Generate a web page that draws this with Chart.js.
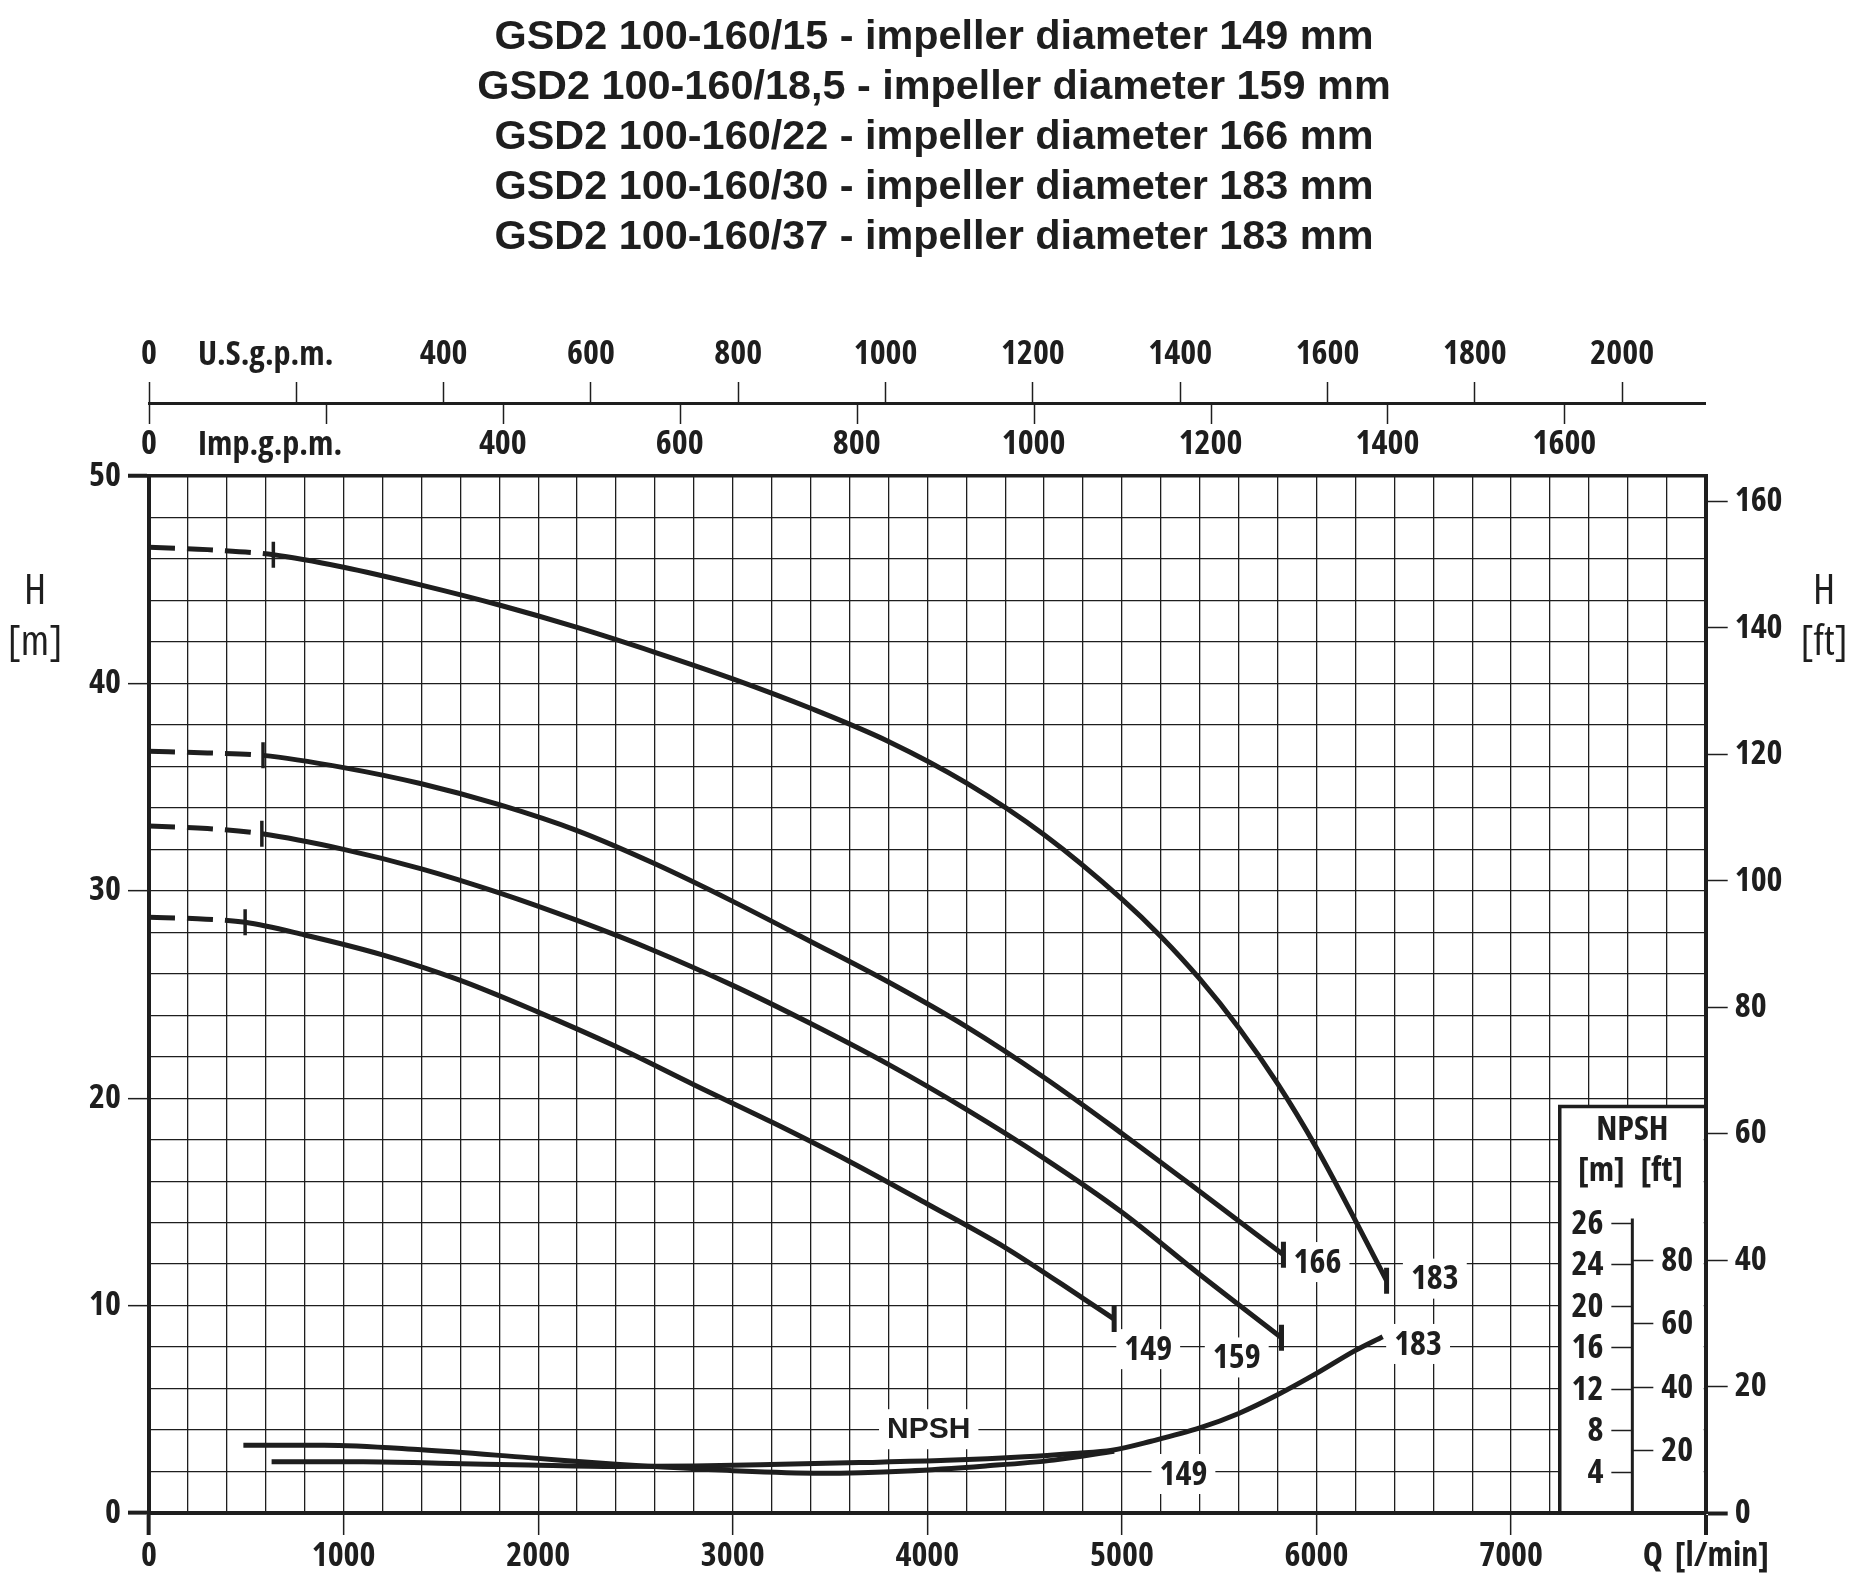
<!DOCTYPE html>
<html>
<head>
<meta charset="utf-8">
<title>GSD2 100-160 - pump curves</title>
<script src="https://cdn.jsdelivr.net/npm/chart.js@4.4.1/dist/chart.umd.min.js"></script>
<style>
    html, body { margin: 0; padding: 0; background: #fff; }
    #wrap { width: 1859px; height: 1591px; }
</style>
</head>
<body>
<div id="wrap"><canvas id="chart"></canvas></div>
<script>
/* ================= DATA ================= */
const titleLines = [
    "GSD2 100-160/15 - impeller diameter 149 mm",
    "GSD2 100-160/18,5 - impeller diameter 159 mm",
    "GSD2 100-160/22 - impeller diameter 166 mm",
    "GSD2 100-160/30 - impeller diameter 183 mm",
    "GSD2 100-160/37 - impeller diameter 183 mm"
];

// Q [l/min] / H [m]
const flow149 = [0, 250, 494, 800, 1200, 1600, 2000, 2400, 2800, 3200, 3600, 4000, 4400, 4800, 4960];
const head149 = [28.72, 28.65, 28.48, 27.87, 26.91, 25.68, 24.15, 22.49, 20.65, 18.85, 16.95, 14.9, 12.8, 10.35, 9.35];

const flow159 = [0, 300, 580, 1000, 1400, 1800, 2200, 2600, 3000, 3400, 3800, 4200, 4600, 5000, 5400, 5820];
const head159 = [33.12, 33.0, 32.75, 32.0, 31.06, 29.9, 28.57, 27.1, 25.44, 23.6, 21.63, 19.46, 17.1, 14.5, 11.5, 8.45];

const flow166 = [0, 300, 586, 1000, 1400, 1800, 2200, 2600, 3000, 3400, 3800, 4200, 4600, 5000, 5400, 5830];
const head166 = [36.73, 36.65, 36.53, 35.94, 35.16, 34.15, 32.9, 31.3, 29.49, 27.56, 25.6, 23.45, 21.0, 18.3, 15.5, 12.45];

const flow183 = [0, 300, 639, 1000, 1400, 1800, 2200, 2600, 3000, 3400, 3800, 4200, 4600, 5000, 5200, 5400, 5600, 5800, 6000, 6200, 6360];
const head183 = [46.56, 46.45, 46.2, 45.6, 44.74, 43.78, 42.7, 41.5, 40.22, 38.8, 37.2, 35.2, 32.7, 29.6, 27.8, 25.75, 23.4, 20.7, 17.6, 14.1, 11.2];

// minimum flow (end of dashed part)
const curveNames   = ["149", "159", "166", "183"];
const curveMinFlow = [494, 580, 586, 639];

// NPSH [m]
const npshFlow149 = [485, 900, 1400, 1950, 2400, 2600, 3000, 3450, 3900, 4300, 4650, 4960];
const npshHead149 = [6.54, 6.54, 6.1, 5.34, 4.7, 4.48, 4.08, 3.84, 4.06, 4.54, 5.1, 5.96];

const npshFlow183 = [630, 1100, 1550, 1950, 2400, 2800, 3250, 3650, 4100, 4500, 4750, 4950, 5150, 5400, 5600, 5800, 6000, 6200, 6340];
const npshHead183 = [4.94, 4.94, 4.78, 4.62, 4.48, 4.54, 4.7, 4.86, 5.08, 5.42, 5.74, 6.06, 6.92, 8.2, 9.6, 11.4, 13.46, 15.68, 17.0];

// curve labels (anchor in Q / H)
const labelText = ["149", "159", "166", "183", "183", "NPSH", "149"];
const labelFlow = [5135, 5590, 6005, 6608, 6522, 4007, 5316];
const labelHead = [7.9, 7.5, 12.1, 11.3, 8.15, 4.04, 1.88];

// NPSH inset scale
const npshMeterTicks  = [4, 8, 12, 16, 20, 24, 28];
const npshMeterLabels = ["4", "8", "12", "16", "20", "24", "26"];
const npshFeetTicks   = [20, 40, 60, 80];

/* ================= UNITS ================= */
const LPM_PER_USGPM  = 3.78541;
const LPM_PER_IMPGPM = 4.54609;
const M_PER_FT       = 0.3048;

/* ================= STYLE ================= */
const ink      = "#1e1e1e";
const narrow   = "'Open Sans', 'DejaVu Sans Condensed', sans-serif";
const wide     = "'Liberation Sans', Arial, sans-serif";
const boldNarrow = `bold condensed 34px ${narrow}`;
const tickFont = { family: narrow, size: 34, weight: "bold condensed", lineHeight: 1 };

/* ================= HELPERS ================= */
function points(xs, ys) {
    return xs.map((x, i) => ({ x: x, y: ys[i] }));
}

function headCurve(name, xs, ys) {
    const minQ = curveMinFlow[curveNames.indexOf(name)];
    const minIdx = xs.indexOf(minQ);
    const last = xs.length - 1;
    return {
        label: "H " + name,
        data: points(xs, ys),
        xAxisID: "x",
        yAxisID: "y",
        borderColor: ink,
        borderWidth: 5,
        cubicInterpolationMode: "monotone",
        pointStyle: "line",
        pointRotation: 90,
        pointRadius: c => (c.dataIndex === minIdx || c.dataIndex === last) ? 13 : 0,
        pointBorderWidth: c => c.dataIndex === last ? 5 : 3.5,
        pointBorderColor: ink,
        segment: {
            borderDash: c => c.p1.parsed.x <= minQ ? [26, 12] : undefined
        }
    };
}

function npshCurve(name, xs, ys) {
    return {
        label: "NPSH " + name,
        data: points(xs, ys),
        xAxisID: "x",
        yAxisID: "ynpsh",
        borderColor: ink,
        borderWidth: 5,
        cubicInterpolationMode: "monotone",
        pointRadius: 0
    };
}

function strokeLine(ctx, x1, y1, x2, y2) {
    ctx.beginPath();
    ctx.moveTo(x1, y1);
    ctx.lineTo(x2, y2);
    ctx.stroke();
}

/* ================= PLUGINS ================= */
const npshInset = {
    id: "npshInset",
    beforeDatasetsDraw(chart) {
        const { ctx, scales: { x, y, ynpsh } } = chart;
        const left = x.getPixelForValue(7250);
        const right = x.getPixelForValue(8000);
        const top = y.getPixelForValue(19.6);
        const bottom = y.getPixelForValue(0);
        const axisX = x.getPixelForValue(7623);

        ctx.save();
        ctx.fillStyle = "#fff";
        ctx.fillRect(left, top, right - 2 - left, bottom - 2 - top);

        ctx.strokeStyle = ink;
        ctx.lineWidth = 3.5;
        ctx.beginPath();
        ctx.moveTo(left, bottom);
        ctx.lineTo(left, top);
        ctx.lineTo(right, top);
        ctx.stroke();

        ctx.lineWidth = 3;
        strokeLine(ctx, axisX, bottom, axisX, ynpsh.getPixelForValue(28.4));

        ctx.lineWidth = 1.5;
        ctx.fillStyle = ink;
        ctx.font = boldNarrow;
        ctx.textBaseline = "middle";

        ctx.textAlign = "right";
        npshMeterTicks.forEach((v, i) => {
            const py = Math.round(ynpsh.getPixelForValue(v)) + 0.5;
            strokeLine(ctx, axisX - 21, py, axisX, py);
            ctx.fillText(npshMeterLabels[i], axisX - 29, py + 1);
        });

        ctx.textAlign = "left";
        npshFeetTicks.forEach(v => {
            const py = Math.round(ynpsh.getPixelForValue(v * M_PER_FT)) + 0.5;
            strokeLine(ctx, axisX, py, axisX + 21, py);
            ctx.fillText(String(v), axisX + 29, py + 1);
        });

        ctx.textAlign = "center";
        ctx.fillText("NPSH", axisX, y.getPixelForValue(18.47));
        ctx.fillText("[m]", x.getPixelForValue(7464), y.getPixelForValue(16.47));
        ctx.fillText("[ft]", x.getPixelForValue(7774), y.getPixelForValue(16.47));
        ctx.restore();
    }
};

const curveLabels = {
    id: "curveLabels",
    beforeDatasetsDraw(chart) {
        const { ctx, scales: { x, y } } = chart;
        ctx.save();
        ctx.textAlign = "center";
        ctx.textBaseline = "middle";
        labelText.forEach((t, i) => {
            ctx.font = t === "NPSH" ? `bold 30px ${wide}` : boldNarrow;
            const px = x.getPixelForValue(labelFlow[i]);
            const py = y.getPixelForValue(labelHead[i]);
            const w = ctx.measureText(t).width + 16;
            ctx.fillStyle = "#fff";
            ctx.fillRect(px - w / 2, py - 20, w, 40);
            ctx.fillStyle = ink;
            ctx.fillText(t, px, py + 1);
        });
        ctx.restore();
    }
};

const gpmTicksDown = {
    id: "gpmTicksDown",
    afterDraw(chart) {
        const s = chart.scales.ximp;
        const ctx = chart.ctx;
        ctx.save();
        ctx.strokeStyle = ink;
        ctx.lineWidth = 1.5;
        s.ticks.forEach(t => {
            const px = Math.round(s.getPixelForValue(t.value)) + 0.5;
            strokeLine(ctx, px, s.top, px, s.top + 21);
        });
        ctx.restore();
    }
};

const axisTitles = {
    id: "axisTitles",
    afterDraw(chart) {
        const { ctx, scales: { y, xus, ximp } } = chart;
        ctx.save();
        ctx.fillStyle = ink;
        ctx.textAlign = "center";
        ctx.textBaseline = "middle";
        ctx.font = `500 condensed 42px ${narrow}`;
        const y1 = y.getPixelForValue(44.4);
        const y2 = y.getPixelForValue(41.97);
        ctx.fillText("H", 35, y1);
        ctx.fillText("[m]", 35, y2);
        ctx.fillText("H", 1824, y1);
        ctx.fillText("[ft]", 1824, y2);

        ctx.font = boldNarrow;
        ctx.textAlign = "left";
        ctx.fillText("U.S.g.p.m.", xus.getPixelForValue(0) + 49, xus.bottom - 48);
        ctx.fillText("Imp.g.p.m.", ximp.getPixelForValue(0) + 49, ximp.bottom - 31);
        ctx.restore();
    }
};

/* ================= CHART ================= */
const onTick = (c, fn, fallback) => (c.tick ? fn(c.tick.value) : fallback);

new Chart(document.getElementById("chart"), {
    type: "line",
    data: {
        datasets: [
            headCurve("149", flow149, head149),
            headCurve("159", flow159, head159),
            headCurve("166", flow166, head166),
            headCurve("183", flow183, head183),
            npshCurve("149", npshFlow149, npshHead149),
            npshCurve("183", npshFlow183, npshHead183)
        ]
    },
    options: {
        responsive: true,
        maintainAspectRatio: false,
        animation: false,
        events: [],
        layout: { padding: { left: 9, top: 0, right: 0, bottom: 0 }, autoPadding: false },
        plugins: {
            legend: { display: false },
            tooltip: { enabled: false },
            title: {
                display: true,
                text: titleLines,
                color: ink,
                font: { family: wide, size: 41.4, weight: "bold", lineHeight: 50 / 41.4 },
                padding: { top: 13, bottom: 0 }
            }
        },
        scales: {
            x: {
                type: "linear",
                axis: "x",
                position: "bottom",
                min: 0,
                max: 8000,
                afterFit: s => { s.height = 78; },
                ticks: {
                    stepSize: 200,
                    autoSkip: false,
                    maxRotation: 0,
                    padding: 4,
                    color: ink,
                    font: tickFont,
                    callback: v => v % 1000 ? "" : (v === 8000 ? "Q  [l/min]" : String(v))
                },
                grid: {
                    color: ink,
                    lineWidth: c => onTick(c, v => v === 8000 ? 4 : 1.3, 1.3),
                    tickLength: 22,
                    tickColor: c => onTick(c, v => v % 1000 === 0 ? ink : "rgba(0,0,0,0)", ink),
                    tickWidth: c => onTick(c, v => (v === 0 || v === 8000) ? 4 : 1.5, 1.5)
                },
                border: { color: ink, width: 4 }
            },
            xus: {
                type: "linear",
                axis: "x",
                position: "top",
                weight: 2,
                min: 0,
                max: 8000 / LPM_PER_USGPM,
                afterFit: s => { s.height = 140; },
                ticks: {
                    stepSize: 200,
                    includeBounds: false,
                    autoSkip: false,
                    maxRotation: 0,
                    padding: 11,
                    color: ink,
                    font: tickFont,
                    callback: v => v === 200 ? "" : String(v)
                },
                grid: { drawOnChartArea: false, color: ink, tickLength: 21, tickWidth: 1.5 },
                border: { color: ink, width: 3 }
            },
            ximp: {
                type: "linear",
                axis: "x",
                position: "top",
                weight: 1,
                min: 0,
                max: 8000 / LPM_PER_IMPGPM,
                afterFit: s => { s.height = 73; },
                ticks: {
                    stepSize: 200,
                    includeBounds: false,
                    autoSkip: false,
                    maxRotation: 0,
                    padding: 15,
                    color: ink,
                    font: tickFont,
                    callback: v => v === 200 ? "" : String(v)
                },
                grid: { display: false, drawTicks: false, tickLength: 0 },
                border: { display: false }
            },
            y: {
                type: "linear",
                axis: "y",
                position: "left",
                min: 0,
                max: 50,
                afterFit: s => { s.width = 140; },
                ticks: {
                    stepSize: 2,
                    autoSkip: false,
                    padding: 7,
                    color: ink,
                    font: tickFont,
                    callback: v => v % 10 ? "" : String(v)
                },
                grid: {
                    color: ink,
                    lineWidth: c => onTick(c, v => v === 50 ? 3.5 : 1.3, 1.3),
                    tickLength: 21,
                    tickColor: c => onTick(c, v => v % 10 === 0 ? ink : "rgba(0,0,0,0)", ink),
                    tickWidth: c => onTick(c, v => (v === 0 || v === 50) ? 4 : 1.5, 1.5)
                },
                border: { color: ink, width: 4 }
            },
            yft: {
                type: "linear",
                axis: "y",
                position: "right",
                min: 0,
                max: 50 / M_PER_FT,
                afterFit: s => { s.width = 153.3; },
                ticks: {
                    stepSize: 20,
                    includeBounds: false,
                    autoSkip: false,
                    padding: 7,
                    color: ink,
                    font: tickFont
                },
                grid: {
                    drawOnChartArea: false,
                    color: ink,
                    tickLength: 22,
                    tickWidth: c => onTick(c, v => v === 0 ? 4 : 1.5, 1.5)
                },
                border: { color: ink, width: 4 }
            },
            ynpsh: {
                type: "linear",
                axis: "y",
                position: "right",
                display: false,
                min: 0,
                max: 100
            }
        }
    },
    plugins: [npshInset, curveLabels, gpmTicksDown, axisTitles]
});
</script>
</body>
</html>
